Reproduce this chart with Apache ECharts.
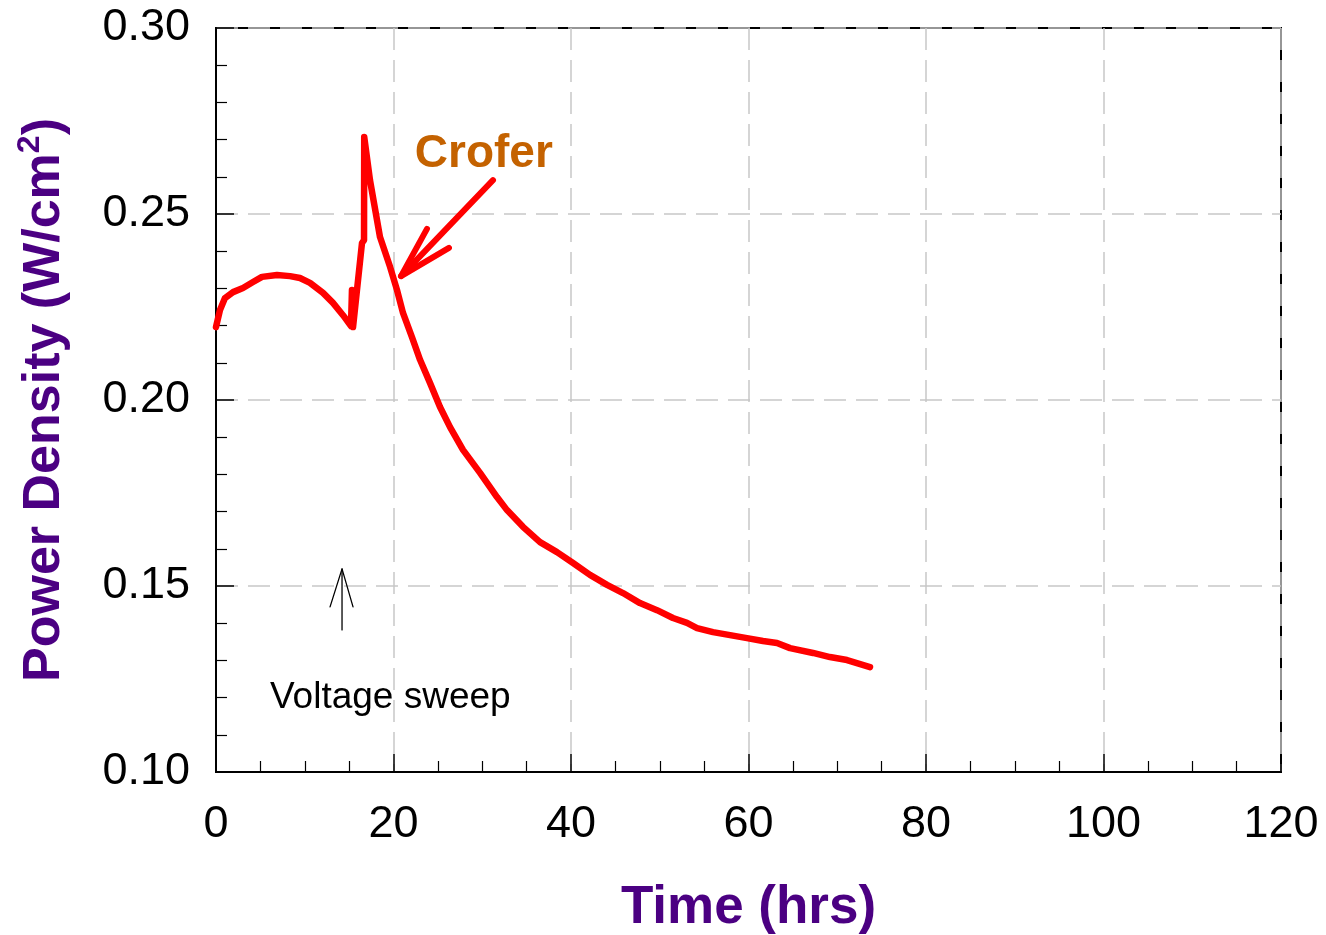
<!DOCTYPE html>
<html><head><meta charset="utf-8">
<script src="https://cdn.jsdelivr.net/npm/echarts@6/dist/echarts.min.js"></script>
<style>html,body{margin:0;padding:0;background:#fff}#c{width:1326px;height:935px}</style>
</head><body><div id="c"></div>
<script>
// Time (hrs)
var timeHrs = [0, 0.45, 1.01, 1.92, 3.04, 4.17, 5.18, 6.87, 8.34, 9.46, 10.59, 12.06, 13.18, 14.31, 15.21, 15.32, 15.44, 15.66, 16.45, 16.68, 16.7, 17.35, 18.48, 19.61, 20.39, 21.07, 22.08, 22.99, 24.11, 25.24, 26.37, 27.83, 29.75, 31.66, 32.79, 34.59, 36.51, 38.42, 40.23, 42.14, 44.06, 45.86, 47.77, 49.69, 51.49, 53.07, 54.2, 56.0, 57.92, 59.83, 61.63, 63.21, 64.68, 67.27, 69.18, 71.1, 73.69];
// Power density (W/cm2)
var powerDensity = [0.2196, 0.2242, 0.2274, 0.2290, 0.2301, 0.2317, 0.2331, 0.2336, 0.2333, 0.2328, 0.2315, 0.2288, 0.2261, 0.2228, 0.2199, 0.2296, 0.2196, 0.2199, 0.2422, 0.2430, 0.2707, 0.2591, 0.2438, 0.2358, 0.2296, 0.2234, 0.2169, 0.2108, 0.2046, 0.1981, 0.1927, 0.1866, 0.1804, 0.1739, 0.1704, 0.1659, 0.1618, 0.1591, 0.1562, 0.1530, 0.1503, 0.1481, 0.1454, 0.1435, 0.1414, 0.1401, 0.1387, 0.1376, 0.1368, 0.1360, 0.1352, 0.1347, 0.1333, 0.1320, 0.1309, 0.1301, 0.1282];

// annotation anchors in data units
var croferArrow = [[31.21, 0.2591], [20.85, 0.2333]];
var croferHead = [[23.77, 0.2460], [20.85, 0.2333], [26.25, 0.2409]];
var sweepArrow = [[14.2, 0.1382], [14.2, 0.1546]];
var sweepHead = [[12.85, 0.1444], [14.2, 0.1546], [15.44, 0.1444]];
var croferLabel = {text: 'Crofer', at: [22.4, 0.2660]};
var sweepLabel = {text: 'Voltage sweep', at: [6.08, 0.1199]};

var xTicks = {min: 0, max: 120, interval: 20};
var yTicks = {min: 0.10, max: 0.30, interval: 0.05};

var chart = echarts.init(document.getElementById('c'));
var FONT = 'Liberation Sans';
var PURPLE = '#4b0082';
var series = [{
  type: 'line', data: timeHrs.map(function (t, i) { return [t, powerDensity[i]]; }),
  showSymbol: false, smooth: false,
  lineStyle: {color: '#ff0000', width: 6.5, cap: 'round', join: 'round'}, z: 5, silent: true
}];
function seg(pts, color, w) {
  return {type: 'line', data: pts, showSymbol: false, silent: true, z: 6,
    lineStyle: {color: color, width: w, cap: 'round', join: 'round'}};
}
series.push(seg(croferArrow, '#ff0000', 6));
series.push(seg(croferHead, '#ff0000', 6));
series.push(seg(sweepArrow, '#000000', 1.3));
series.push(seg(sweepHead, '#000000', 1.3));

chart.setOption({
  animation: false,
  grid: {left: 216, right: 45, top: 28, bottom: 163, containLabel: false, outerBoundsMode: 'none',
    show: true, borderColor: '#000', borderWidth: 2, backgroundColor: 'transparent'},
  xAxis: {
    type: 'value', min: xTicks.min, max: xTicks.max, interval: xTicks.interval,
    name: 'Time (hrs)', nameLocation: 'middle', nameGap: 110,
    nameTextStyle: {fontFamily: FONT, fontSize: 53, fontWeight: 'bold', color: PURPLE},
    axisLine: {show: true, lineStyle: {color: '#000', width: 2}},
    axisTick: {show: true, inside: true, length: 18, lineStyle: {color: '#000', width: 1.5}},
    minorTick: {show: true, splitNumber: 4, length: 11, lineStyle: {color: '#000', width: 1.2}},
    axisLabel: {fontFamily: FONT, fontSize: 45, color: '#000', margin: 30},
    splitLine: {show: true, lineStyle: {color: '#c8c8c8', width: 1.5, type: [22, 10]}}
  },
  yAxis: {
    type: 'value', min: yTicks.min, max: yTicks.max, interval: yTicks.interval,
    name: 'Power Density (W/cm{s|2})', nameLocation: 'middle', nameGap: 140, nameRotate: 90,
    nameTextStyle: {fontFamily: FONT, fontSize: 52, fontWeight: 'bold', color: PURPLE,
      rich: {s: {fontFamily: FONT, fontSize: 32, fontWeight: 'bold', color: PURPLE, padding: [0, 0, 30, 0]}}},
    axisLine: {show: true, lineStyle: {color: '#000', width: 2}},
    axisTick: {show: true, inside: true, length: 18, lineStyle: {color: '#000', width: 1.5}},
    minorTick: {show: true, splitNumber: 5, length: 11, lineStyle: {color: '#000', width: 1.2}},
    axisLabel: {fontFamily: FONT, fontSize: 45, color: '#000', margin: 26,
      formatter: function (v) { return v.toFixed(2); }},
    splitLine: {show: true, lineStyle: {color: '#c8c8c8', width: 1.5, type: [22, 10]}}
  },
  series: series
});

var p1 = chart.convertToPixel({gridIndex: 0}, croferLabel.at);
var p2 = chart.convertToPixel({gridIndex: 0}, sweepLabel.at);
chart.setOption({graphic: [
  {type: 'text', x: p1[0], y: p1[1], style: {text: croferLabel.text, fontFamily: FONT, fontSize: 46, fontWeight: 'bold', fill: '#c46200', verticalAlign: 'middle', align: 'left'}},
  {type: 'text', x: p2[0], y: p2[1], style: {text: sweepLabel.text, fontFamily: FONT, fontSize: 37, fill: '#000', verticalAlign: 'middle', align: 'left'}}
]});
</script></body></html>
